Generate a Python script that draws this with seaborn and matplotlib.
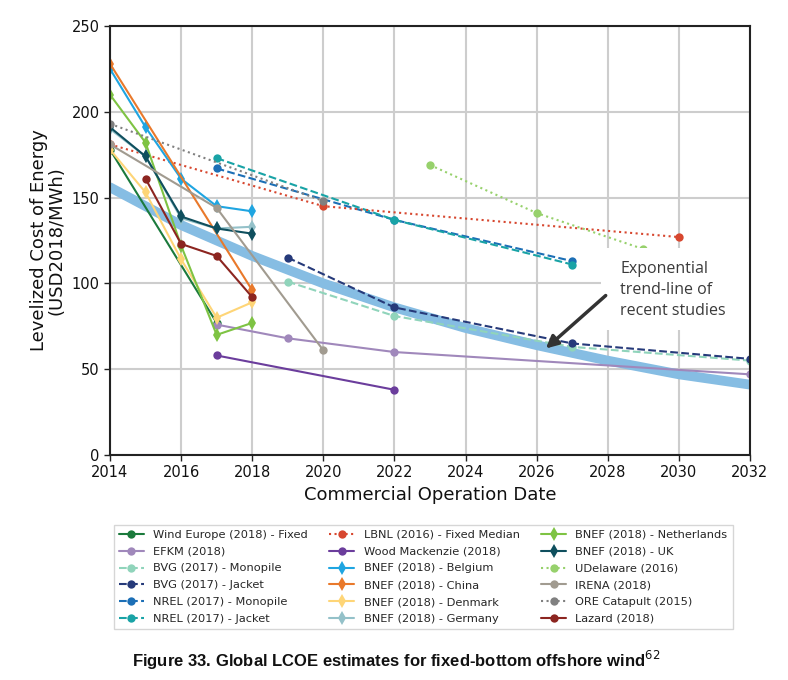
import numpy as np
import pandas as pd
import matplotlib
matplotlib.use("Agg")
import matplotlib.pyplot as plt
import matplotlib.patches as mpatches
import seaborn as sns

# series: name -> (years, LCOE values)
wind_europe_x = [2014, 2017]
wind_europe_y = [178, 77]
efkm_x = [2017, 2019, 2022, 2032]
efkm_y = [76, 68, 60, 47]
bvg_mono_x = [2019, 2022, 2027, 2032]
bvg_mono_y = [101, 81, 63, 55]
bvg_jacket_x = [2019, 2022, 2027, 2032]
bvg_jacket_y = [115, 86, 65, 56]
nrel_mono_x = [2017, 2022, 2027]
nrel_mono_y = [167, 137, 113]
nrel_jacket_x = [2017, 2022, 2027]
nrel_jacket_y = [173, 137, 111]
lbnl_x = [2014, 2020, 2030]
lbnl_y = [181, 145, 127]
woodmac_x = [2017, 2022]
woodmac_y = [58, 38]
bnef_be_x = [2014, 2015, 2016, 2017, 2018]
bnef_be_y = [225, 191, 161, 145, 142]
bnef_cn_x = [2014, 2018]
bnef_cn_y = [228, 96]
bnef_dk_x = [2014, 2015, 2016, 2017, 2018]
bnef_dk_y = [178, 153, 114, 80, 89]
bnef_de_x = [2014, 2015, 2016, 2017, 2018]
bnef_de_y = [190, 174, 138, 132, 133]
bnef_nl_x = [2014, 2015, 2016, 2017, 2018]
bnef_nl_y = [210, 182, 122, 70, 77]
bnef_uk_x = [2014, 2015, 2016, 2017, 2018]
bnef_uk_y = [191, 174, 139, 132, 129]
udel_x = [2023, 2026, 2029]
udel_y = [169, 141, 120]
irena_x = [2014, 2017, 2020]
irena_y = [181, 144, 61]
ore_x = [2014, 2020]
ore_y = [193, 148]
lazard_x = [2015, 2016, 2017, 2018]
lazard_y = [161, 123, 116, 92]

# trend line
trend_x = [2014, 2016, 2018, 2020, 2022, 2024, 2026, 2028, 2030, 2032]
trend_y = [156, 134, 116, 100, 86, 74, 64, 55, 47, 41]

series = [
    ("Wind Europe (2018) - Fixed", wind_europe_x, wind_europe_y, "#1b7a3c", "-", "o"),
    ("EFKM (2018)", efkm_x, efkm_y, "#a088bb", "-", "o"),
    ("BVG (2017) - Monopile", bvg_mono_x, bvg_mono_y, "#90d4bb", "--", "o"),
    ("BVG (2017) - Jacket", bvg_jacket_x, bvg_jacket_y, "#263a7a", "--", "o"),
    ("NREL (2017) - Monopile", nrel_mono_x, nrel_mono_y, "#1c6fb6", "--", "o"),
    ("NREL (2017) - Jacket", nrel_jacket_x, nrel_jacket_y, "#19a3a6", "--", "o"),
    ("LBNL (2016) - Fixed Median", lbnl_x, lbnl_y, "#d7472f", ":", "o"),
    ("Wood Mackenzie (2018)", woodmac_x, woodmac_y, "#6b3d9c", "-", "o"),
    ("BNEF (2018) - Belgium", bnef_be_x, bnef_be_y, "#1fa5e1", "-", "d"),
    ("BNEF (2018) - China", bnef_cn_x, bnef_cn_y, "#e9792b", "-", "d"),
    ("BNEF (2018) - Denmark", bnef_dk_x, bnef_dk_y, "#fed577", "-", "d"),
    ("BNEF (2018) - Germany", bnef_de_x, bnef_de_y, "#94c1c9", "-", "d"),
    ("BNEF (2018) - Netherlands", bnef_nl_x, bnef_nl_y, "#7ec343", "-", "d"),
    ("BNEF (2018) - UK", bnef_uk_x, bnef_uk_y, "#0f4f5e", "-", "d"),
    ("UDelaware (2016)", udel_x, udel_y, "#97d16c", ":", "o"),
    ("IRENA (2018)", irena_x, irena_y, "#a19b90", "-", "o"),
    ("ORE Catapult (2015)", ore_x, ore_y, "#808080", ":", "o"),
    ("Lazard (2018)", lazard_x, lazard_y, "#8c2520", "-", "o"),
]

sns.set_theme(style="whitegrid")
plt.rcParams["font.family"] = ["DejaVu Sans"]

fig = plt.figure(figsize=(7.88, 6.8), dpi=100)
ax = fig.add_axes([110 / 788, 1 - 455 / 680, 640 / 788, 429 / 680])

sns.lineplot(x=trend_x, y=trend_y, ax=ax, color="#86bde3", linewidth=7,
             zorder=1, legend=False)

for name, xs, ys, col, ls, mk in series:
    d = pd.DataFrame({"year": xs, "lcoe": ys})
    sns.lineplot(data=d, x="year", y="lcoe", ax=ax, color=col, linestyle=ls,
                 linewidth=1.5, marker=mk, markersize=6 if mk == "o" else 7,
                 markeredgewidth=0, label=name, zorder=3)

ax.set_xlim(2014, 2032)
ax.set_ylim(0, 250)
ax.set_xticks(range(2014, 2033, 2))
ax.set_yticks(range(0, 251, 50))
ax.grid(True, color="#cdcdcd", linewidth=1.5)
for s in ax.spines.values():
    s.set_color("#222222")
    s.set_linewidth(1.5)
    s.set_zorder(8)
ax.tick_params(axis="both", length=4, width=1, color="#222222",
               labelsize=10.5, labelcolor="#111111", bottom=True, left=True)
ax.set_xlabel("Commercial Operation Date", fontsize=13, color="#111111")
ax.set_ylabel("Levelized Cost of Energy\n(USD2018/MWh)", fontsize=13,
              color="#111111", linespacing=1.0)

# white callout box
ax.add_patch(mpatches.Rectangle((2027.8, 73), 4.2, 47.5, facecolor="white",
                                edgecolor="none", zorder=4, clip_on=True))
ax.annotate("", xy=(2026.2, 61), xytext=(2028.0, 94),
            arrowprops=dict(arrowstyle="-|>", color="#333333", lw=2.5,
                            mutation_scale=18), zorder=6)
ax.text(2028.35, 96.2, "Exponential\ntrend-line of\nrecent studies", fontsize=11.5,
        color="#3a3a3a", va="center", ha="left", linespacing=1.45,
        family=["Open Sans", "DejaVu Sans"], zorder=5)

handles, labels = ax.get_legend_handles_labels()
if ax.legend_:
    ax.legend_.remove()
fig.legend(handles, labels, loc="upper left", ncol=3,
           bbox_to_anchor=(108 / 788, 1 - 519 / 680), fontsize=8.2,
           frameon=True, edgecolor="#cccccc", fancybox=False,
           handlelength=2.2, handletextpad=0.8, columnspacing=1.9,
           labelspacing=0.6, borderpad=0.45)

fig.text(0.503, 1 - 660 / 680,
         "Figure 33. Global LCOE estimates for fixed-bottom offshore wind$^{62}$",
         ha="center", va="center", fontsize=12, fontweight="bold",
         family=["Liberation Sans Narrow", "Liberation Sans", "DejaVu Sans"],
         color="#111111")

fig.savefig("out.png", dpi=100)
